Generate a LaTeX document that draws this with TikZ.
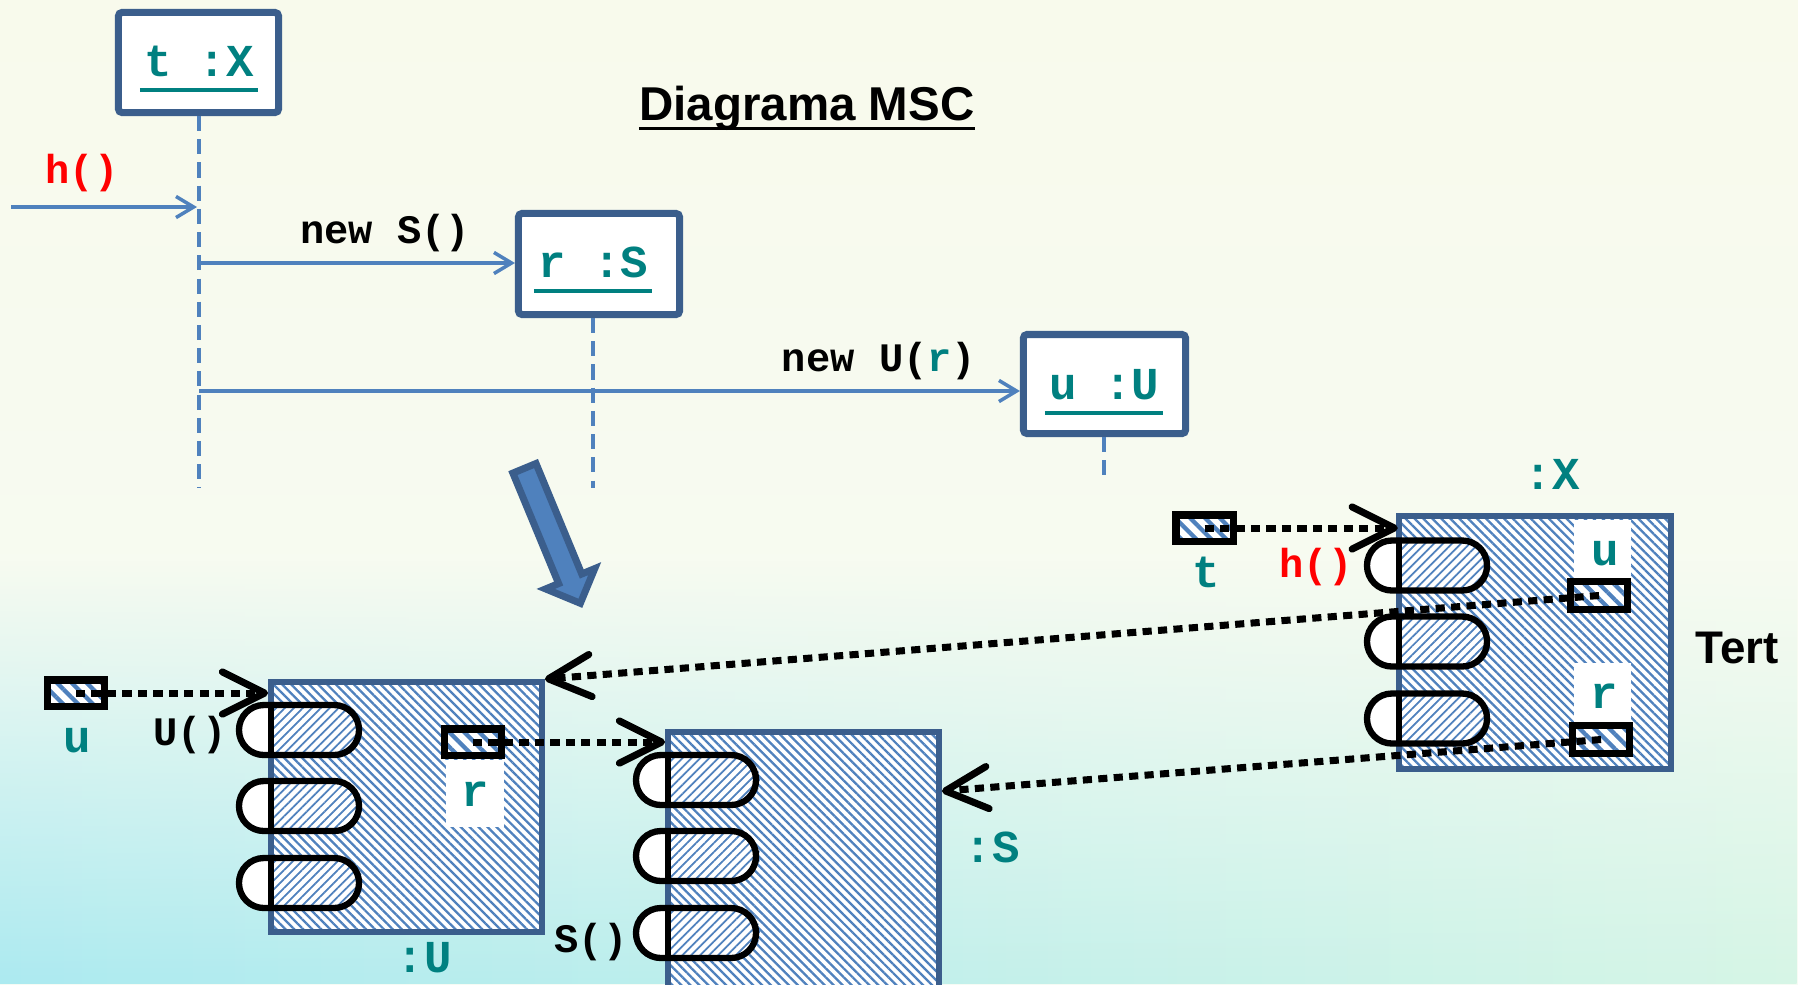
\documentclass[tikz,border=0pt]{standalone}
\usepackage{fontspec}
\usepackage{xcolor}
\usepackage{tikz}
\usetikzlibrary{arrows.meta,shapes.misc,shapes.arrows,patterns.meta,fadings}
\newfontfamily\codefont{Liberation Mono}
\newfontfamily\headfont{Liberation Sans}
\definecolor{boxblue}{RGB}{59, 94, 140}
\definecolor{msgblue}{RGB}{79, 129, 189}
\definecolor{hatchblue}{RGB}{79, 129, 189}
\definecolor{objteal}{RGB}{0, 128, 128}
\definecolor{callred}{RGB}{255, 0, 0}
\definecolor{bgtop}{RGB}{248, 250, 236}
\definecolor{bgbottom}{RGB}{246, 251, 244}
\definecolor{bgcyan}{RGB}{172, 234, 240}
\definecolor{bgmint}{RGB}{214, 245, 230}

\tikzset{
  titletext/.style={font=\headfont\bfseries\fontsize{13.5}{16}\selectfont, anchor=base, inner sep=0},
  objname/.style={text=objteal, font=\codefont\bfseries\fontsize{13}{15}\selectfont, anchor=base, inner sep=0},
  msglabel/.style={font=\codefont\bfseries\fontsize{11.5}{14}\selectfont, anchor=base, inner sep=0},
  nameline/.style={draw=objteal, line width=1.1pt},
  lifehead/.style={draw=boxblue, line width=2pt, fill=white, rounded corners=1pt, inner sep=0},
  lifeline/.style={draw=msgblue, line width=1pt, dash pattern=on 4.3pt off 2.3pt},
  msg/.style={draw=msgblue, line width=1pt, -{Straight Barb[length=5pt,width=6pt]}},
  flowarrow/.style={single arrow, fill=msgblue, draw=boxblue, line width=2pt, inner sep=0.09cm,
    minimum height=1.46cm, single arrow head extend=0.14cm, rotate=-67.5},
  hatchbox/.style={draw=boxblue, line width=1.6pt, inner sep=0, preaction={fill=white},
    pattern={Lines[angle=-45,distance=1.8pt,line width=0.65pt]}, pattern color=hatchblue},
  refbox/.style={draw=black, line width=2pt, inner sep=0, minimum width=0.57cm, minimum height=0.26cm,
    preaction={fill=white}, pattern={Lines[angle=-45,distance=3pt,line width=1.2pt]}, pattern color=hatchblue},
  labelbg/.style={fill=white, inner sep=0},
  pillbg/.style={rounded rectangle, minimum width=1.2cm, minimum height=0.5cm, inner sep=0, outer sep=0, fill=white},
  pillhatch/.style={rounded rectangle, rounded rectangle west arc=none, minimum width=0.92cm, minimum height=0.5cm,
    inner sep=0, outer sep=0, anchor=west, pattern={Lines[angle=45,distance=1.8pt,line width=0.5pt]}, pattern color=hatchblue},
  pilledge/.style={rounded rectangle, minimum width=1.2cm, minimum height=0.5cm, inner sep=0, outer sep=0, draw=black, line width=1.8pt},
  ptr/.style={draw=black, line width=2pt, dash pattern=on 2.6pt off 1.8pt, -{Straight Barb[length=12pt,width=12pt,round]}}
}

% method slot: name, x of the box edge, y of the centre
\newcommand{\method}[3]{%
  \node[pillbg] (#1) at (#2+28,#3) {};
  \node[pillhatch] (#1h) at (#2,#3) {};
  \node[pilledge] (#1e) at (#1) {};
  \draw[line width=1.8pt] (#1h.north west) -- (#1h.south west);
}

\begin{document}
\begin{tikzpicture}[x=0.01cm, y=-0.01cm]
  \useasboundingbox (0,0) rectangle (1798,984);
  \clip (0,0) rectangle (1798,984);
  % background
  \shade[top color=bgtop, bottom color=bgbottom] (0,0) rectangle (1798,984);
  \shade[left color=bgcyan, right color=bgmint, path fading=north] (0,560) rectangle (1798,984);

  % title
  \node[titletext] (title) at (807,120) {Diagrama MSC};
  \draw[line width=1pt] ([yshift=-2.4pt]title.base west) -- ([yshift=-2.4pt]title.base east);

  % lifeline heads
  \node[lifehead, minimum width=1.60cm, minimum height=1.00cm] (tX) at (198.5,62.5) {};
  \node[objname] (tXname) at (199,76) {t :X};
  \draw[nameline] ([xshift=-1pt,yshift=-4pt]tXname.base west) -- ([xshift=1pt,yshift=-4pt]tXname.base east);

  \node[lifehead, minimum width=1.61cm, minimum height=1.01cm] (rS) at (599,264) {};
  \node[objname] (rSname) at (593,277) {r :S};
  \draw[nameline] ([xshift=-1pt,yshift=-4pt]rSname.base west) -- ([xshift=1pt,yshift=-4pt]rSname.base east);

  \node[lifehead, minimum width=1.62cm, minimum height=0.99cm] (uU) at (1104.5,384) {};
  \node[objname] (uUname) at (1104,399) {u :U};
  \draw[nameline] ([xshift=-1pt,yshift=-4pt]uUname.base west) -- ([xshift=1pt,yshift=-4pt]uUname.base east);

  % lifelines
  \coordinate (tXend) at (199,488);
  \coordinate (rSend) at (593,488);
  \coordinate (uUend) at (1104,481);
  \draw[lifeline] (tXend |- tX.south) -- (tXend);
  \draw[lifeline] (rSend |- rS.south) -- (rSend);
  \draw[lifeline] (uUend |- uU.south) -- (uUend);

  % messages
  \coordinate (hStart) at (11,207);
  \coordinate (hEnd) at (197,207);
  \draw[msg] (hStart) -- (hEnd);
  \node[msglabel, text=callred] (hLabel) at (82,183) {h()};

  \coordinate (newSfrom) at (199,263);
  \draw[msg] (newSfrom) -- (newSfrom -| rS.west);
  \node[msglabel] (newSLabel) at (385,243) {new S()};

  \coordinate (newUfrom) at (199,391);
  \draw[msg] (newUfrom) -- (newUfrom -| uU.west);
  \node[msglabel] (newULabel) at (879,371) {new U(\textcolor{objteal}{r})};

  % from the diagram to the objects
  \node[flowarrow] (flow) at (550,530) {};

  % object Tert
  \node[hatchbox, minimum width=2.72cm, minimum height=2.53cm] (Xobj) at (1535,642.5) {};
  \node[labelbg, minimum width=0.57cm, minimum height=0.60cm] (XuBg) at (1602.5,550) {};
  \node[objname] (XuName) at (1605,565) {u};
  \node[labelbg, minimum width=0.57cm, minimum height=0.59cm] (XrBg) at (1602.5,692.5) {};
  \node[objname] (XrName) at (1604,708) {r};
  \method{Xm1}{1399}{565.5}
  \method{Xm2}{1399}{641.5}
  \method{Xm3}{1399}{718.5}
  \node[refbox, minimum height=0.28cm] (Xu) at (1599,595.5) {};
  \node[refbox, minimum height=0.28cm] (Xr) at (1601,739.5) {};
  \node[objname] (XLabel) at (1552,489) {:X};
  \node[titletext, font=\headfont\bfseries\fontsize{13}{15}\selectfont] (tertLabel) at (1737,663) {Tert};
  \node[msglabel, text=callred] (hCall) at (1316,577) {h()};
  \node[refbox] (tref) at (1204.5,528) {};
  \node[objname] (tLabel) at (1206,587) {t};

  % object :U
  \node[hatchbox, minimum width=2.71cm, minimum height=2.50cm] (Uobj) at (406.5,807) {};
  \node[labelbg, minimum width=0.58cm, minimum height=0.67cm] (UrBg) at (475,793.5) {};
  \node[objname] (UrName) at (475,806) {r};
  \method{Um1}{271}{730}
  \method{Um2}{271}{806}
  \method{Um3}{271}{883}
  \node[refbox] (Ur) at (473,742) {};
  \node[refbox] (uref) at (76,693) {};
  \node[objname] (uLabel) at (77,752) {u};
  \node[msglabel] (UCall) at (190,745) {U()};
  \node[objname] (ULabel) at (424,972) {:U};

  % object :S
  \node[hatchbox, minimum width=2.71cm, minimum height=3.3cm] (Sobj) at (803.5,897) {};
  \method{Sm1}{668}{780}
  \method{Sm2}{668}{856}
  \method{Sm3}{668}{933}
  \node[objname] (SLabel) at (992,862) {:S};
  \node[msglabel] (SCall) at (591,952) {S()};

  % references
  \draw[ptr] (tref.center) -- (tref -| Xobj.west);
  \draw[ptr] (uref.center) -- (uref -| Uobj.west);
  \draw[ptr] (Ur.center) -- (Ur -| Sobj.west);
  \draw[ptr] (Xu.center) -- (Uobj.north east);
  \draw[ptr] (Xr.center) -- ([yshift=-0.62cm]Sobj.north east);
\end{tikzpicture}
\end{document}
